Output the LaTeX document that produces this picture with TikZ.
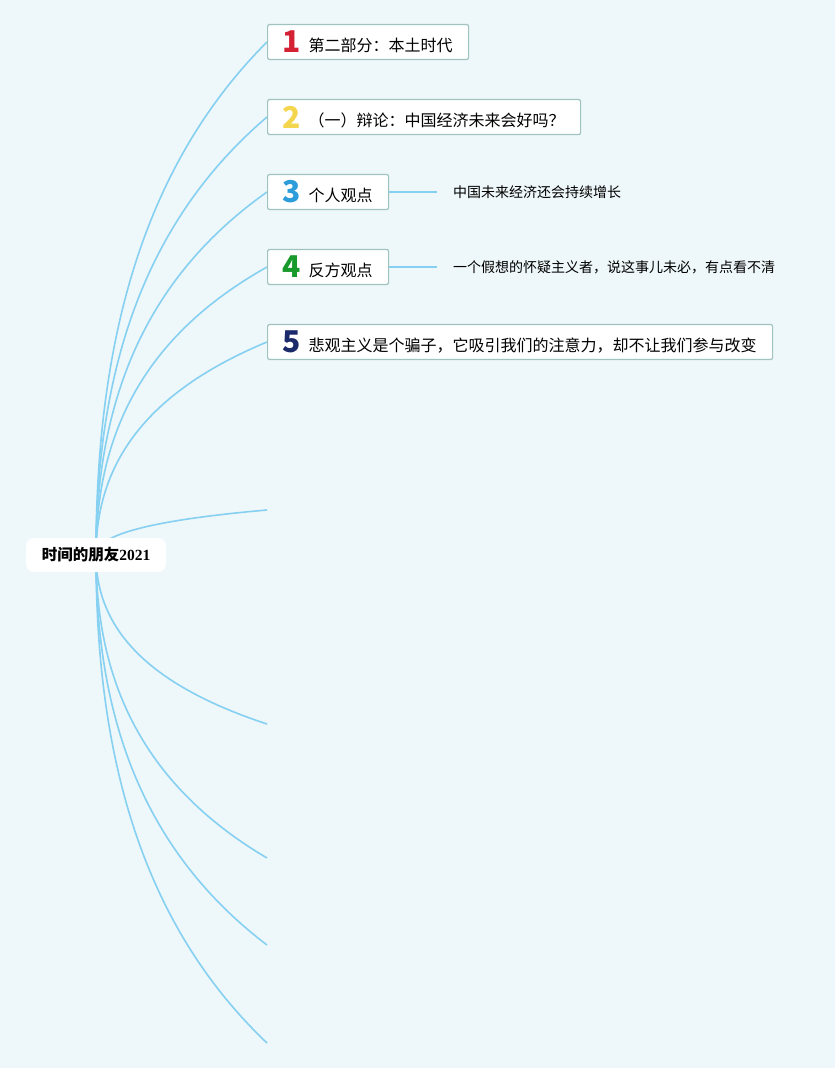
\documentclass[tikz,border=0pt]{standalone}
\usepackage{fontspec}
\setmainfont{Noto Sans CJK SC}
\newfontfamily\digitfont{Liberation Serif}
\usetikzlibrary{backgrounds,calc}
\definecolor{bgcol}{HTML}{EEF7F9}
\definecolor{linecol}{HTML}{86D0F2}
\definecolor{boxline}{HTML}{9FC4C0}
\definecolor{numA}{HTML}{D42234}
\definecolor{numB}{HTML}{F4D54E}
\definecolor{numC}{HTML}{2D9CDB}
\definecolor{numD}{HTML}{179A2B}
\definecolor{numE}{HTML}{1B2A6B}
\tikzstyle{topic}=[draw=boxline, fill=white, line width=1.2pt, rounded corners=2pt, minimum height=35pt, inner xsep=16pt, inner ysep=2pt, anchor=west, align=left, font=\fontsize{16}{16}\selectfont]
\tikzstyle{leaf}=[inner xsep=16pt, inner ysep=0pt, anchor=west, font=\fontsize{14}{14}\selectfont]
\tikzstyle{branch}=[draw=linecol, line width=1.6pt]
\tikzstyle{root}=[fill=white, rounded corners=8pt, minimum width=140pt, minimum height=34pt, font=\bfseries\fontsize{15.5}{15.5}\selectfont]
\newcommand{\badge}[2]{\makebox[17pt][c]{\raisebox{-1.5pt}{\color{#1}\bfseries\fontsize{30}{30}\selectfont #2}}\hspace{8pt}}

\begin{document}
\begin{tikzpicture}[x=1pt,y=-1pt]
				\begin{pgfonlayer}{background}
					\fill[bgcol] (0,0) rectangle (835,1068);
				\end{pgfonlayer}

				% Central topic
				\node[root] (root) at (96,555) {时间的朋友{\digitfont\bfseries 2021}};

				% Main topics
				\node[topic, text width=169pt] (t1) at (267, 42) {\mbox{\badge{numA}{1}第二部分：本土时代}};
				\node[topic, text width=281pt] (t2) at (267,117) {\mbox{\badge{numB}{2}（一）辩论：中国经济未来会好吗？}};
				\node[topic, text width=89pt]  (t3) at (267,192) {\mbox{\badge{numC}{3}个人观点}};
				\node[topic, text width=89pt]  (t4) at (267,267) {\mbox{\badge{numD}{4}反方观点}};
				\node[topic, text width=473pt] (t5) at (267,342) {\mbox{\badge{numE}{5}悲观主义是个骗子，它吸引我们的注意力，却不让我们参与改变}};

				% Sub topics
				\node[leaf] (l3) at (437,192) {中国未来经济还会持续增长};
				\node[leaf] (l4) at (437,267) {一个假想的怀疑主义者，说这事儿未必，有点看不清};
				\draw[branch] (t3.east) -- (l3.west);
				\draw[branch] (t4.east) -- (l4.west);

				% Branch ends without text
				\foreach \y [count=\i from 6] in {510, 724, 858, 945, 1043}{ \coordinate (t\i) at (267,\y); }

				\begin{pgfonlayer}{background}
					\foreach \i in {1,...,10}{
						\draw[branch] let \p1=(root.center), \p2=(t\i.west) in
							(\p1) .. controls (\x1, {\y1+0.4*(\y2-\y1)}) and ({\x1+0.25*(\x2-\x1)}, {\y1+0.75*(\y2-\y1)}) .. (\p2);
					}
				\end{pgfonlayer}
			\end{tikzpicture}
\end{document}
